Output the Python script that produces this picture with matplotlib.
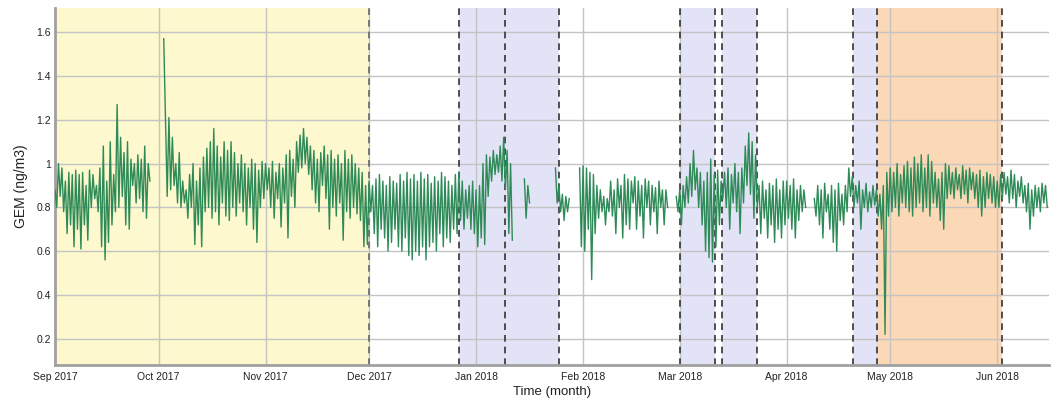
import numpy as np
import pandas as pd
import matplotlib
matplotlib.use("Agg")
from matplotlib import pyplot as plt
import matplotlib.dates as mdates
from matplotlib.ticker import FuncFormatter

nan = np.nan

# GEM readings (ng/m3 x 100), two readings per day (high / low)
sep_2017 = [88, 80, 100, 85, 98, 78, 92, 68, 96, 72, 95, 62, 97, 70, 95, 61, 96, 72, 90, 65,
            97, 80, 95, 84, 90, 78, 98, 62, 108, 56, 92, 64, 110, 72, 95, 78, 127, 80, 112, 85,
            105, 72, 110, 70, 102, 90, 100, 82, 104, 84, 102, 78, 108, 75, 100, 92, nan, nan, nan, nan]
oct_2017 = [nan, nan, nan, 157, 122, 85, 121, 88, 112, 90, 100, 82, 105, 80, 92, 82, 88, 75, 95, 80,
            100, 63, 92, 72, 98, 62, 103, 78, 107, 80, 110, 75, 116, 78, 108, 72, 103, 82, 110, 76,
            106, 74, 110, 80, 105, 76, 100, 82, 104, 78, 100, 72, 98, 80, 102, 70, 100, 64, 97, 80,
            101, 84]
nov_2017 = [100, 88, 98, 80, 101, 75, 96, 84, 100, 71, 98, 82, 104, 66, 106, 85, 102, 80, 110, 96,
            113, 98, 116, 100, 112, 95, 108, 88, 106, 82, 102, 78, 105, 90, 108, 84, 104, 70, 106, 80,
            102, 76, 104, 82, 100, 65, 106, 78, 102, 75, 104, 80, 100, 77, 98, 74, 96, 62, 90, 63]
dec_2017 = [92, 78, 90, 68, 93, 62, 95, 70, 92, 66, 90, 60, 94, 64, 92, 70, 91, 62, 95, 60,
            92, 66, 96, 58, 93, 56, 95, 60, 92, 58, 96, 62, 93, 56, 95, 62, 91, 64, 94, 60,
            92, 68, 96, 62, 94, 66, 92, 64, 90, 70, 95, 68, 96, 74, 92, 70, 88, 75, 90, 70,
            92, 68]
jan_2018 = [88, 62, 90, 66, 100, 63, 104, 85, 103, 92, 106, 95, 104, 96, 108, 92, 112, 88, 106, 68,
            100, 65, nan, nan, nan, nan, nan, nan, 93, 75, 90, 82, nan, nan, nan, nan, nan, nan, nan, nan,
            nan, nan, nan, nan, nan, nan, 98, 82, 90, 78, 86, 74, 85, 78, 84, nan, nan, nan, nan, nan,
            98, 62]
feb_2018 = [99, 60, 98, 70, 96, 47, 95, 68, 90, 75, 88, 78, 85, 72, 84, 78, 92, 76, 88, 68,
            93, 80, 90, 66, 95, 72, 93, 70, 92, 82, 94, 70, 92, 76, 90, 66, 93, 80, 92, 72,
            90, 78, 89, 68, 92, 80, 88, 72, 88, 80, nan, nan, nan, nan, 85, 78]
mar_2018 = [88, 72, 90, 80, 94, 82, 100, 85, 106, 88, 98, 80, 96, 72, 92, 60, 96, 57, 102, 55,
            95, 62, 97, 72, 92, 84, 96, 80, 98, 70, 95, 82, 100, 78, 96, 68, 98, 82, 108, 90,
            114, 86, 110, 75, 104, 80, 90, 68, 92, 75, 88, 66, 91, 72, 90, 64, 93, 70, 88, 66,
            92, 72]
apr_2018 = [92, 75, 90, 70, 93, 66, 88, 74, 90, 78, 88, 80, nan, nan, nan, nan, 84, 76, 90, 72,
            88, 66, 91, 78, 86, 70, 90, 64, 88, 60, 91, 74, 86, 72, 90, 78, 98, 85, 94, 80,
            90, 82, 92, 70, 88, 80, 91, 78, 87, 80, 90, 81, 88, 76, 86, 70, 90, 22, 96, 76]
may_2018 = [98, 78, 96, 80, 100, 76, 95, 82, 99, 80, 101, 78, 98, 76, 103, 80, 100, 82, 104, 78,
            98, 80, 104, 76, 101, 82, 96, 80, 93, 74, 96, 70, 100, 84, 99, 86, 96, 84, 98, 88,
            95, 84, 99, 86, 97, 82, 98, 88, 96, 84, 95, 80, 97, 76, 94, 80, 96, 84, 95, 82,
            94, 80]
jun_2018 = [92, 80, 95, 84, 96, 86, 94, 82, 97, 84, 95, 80, 92, 85, 94, 82, 90, 78, 91, 70,
            88, 76, 90, 80, 89, 78, 91, 82, 90, 80]

gem = np.array(sep_2017 + oct_2017 + nov_2017 + dec_2017 + jan_2018 + feb_2018
               + mar_2018 + apr_2018 + may_2018 + jun_2018, dtype=float) / 100
times = pd.date_range("2017-09-01", periods=len(gem), freq="12h")

# shaded periods
yellow_periods = [("2017-09-01", "2017-12-01")]
blue_periods = [("2017-12-27", "2018-01-25"), ("2018-03-01", "2018-03-11 06:00"),
                ("2018-03-13 06:00", "2018-03-23 12:00"), ("2018-04-20 06:00", "2018-04-27 06:00")]
orange_periods = [("2018-04-27 06:00", "2018-06-02 06:00")]
dashed_dates = ["2017-12-27", "2018-01-09 10:00", "2018-01-25", "2018-03-01",
                "2018-03-11 06:00", "2018-03-13 06:00", "2018-03-23 12:00",
                "2018-04-20 06:00", "2018-04-27 06:00", "2018-06-02 06:00"]

plt.rcParams['font.family'] = ['Liberation Sans', 'DejaVu Sans']

fig = plt.figure(figsize=(10.6, 4.04), dpi=100)
ax = fig.add_axes([0.0519, 0.0965, 0.9377, 0.8835])

for start, end in yellow_periods:
    ax.axvspan(pd.Timestamp(start), pd.Timestamp(end), color="#fdf8cd", zorder=0, lw=0)
for start, end in blue_periods:
    ax.axvspan(pd.Timestamp(start), pd.Timestamp(end), color="#e3e3f8", zorder=0, lw=0)
for start, end in orange_periods:
    ax.axvspan(pd.Timestamp(start), pd.Timestamp(end), color="#fcd9b6", zorder=0, lw=0)

ax.axvline(pd.Timestamp("2017-12-01"), color="#666666", ls=(0, (4, 3)), lw=1.2, zorder=2)
for d in dashed_dates:
    ax.axvline(pd.Timestamp(d), color="#333333", ls=(0, (4, 3)), lw=1.2, zorder=2)

ax.plot(times, gem, color="#2e8b57", lw=1.0, zorder=3)

ax.set_xlim(pd.Timestamp("2017-09-01"), pd.Timestamp("2018-06-16"))
ax.set_ylim(0.08, 1.71)
ax.set_yticks([0.2, 0.4, 0.6, 0.8, 1.0, 1.2, 1.4, 1.6])
ax.yaxis.set_major_formatter(FuncFormatter(lambda v, p: "%g" % round(v, 1)))
ax.xaxis.set_major_locator(mdates.MonthLocator())
ax.xaxis.set_major_formatter(mdates.DateFormatter("%b %Y"))

ax.grid(True, color="#c4c4c4", lw=1)
ax.set_axisbelow(True)
ax.tick_params(length=0, labelsize=7.5, colors="#222222")
ax.tick_params(axis="y", pad=3)
ax.tick_params(axis="x", pad=5)
for s in ["top", "right"]:
    ax.spines[s].set_visible(False)
for s in ["left", "bottom"]:
    ax.spines[s].set_color("#a0a0a0")
    ax.spines[s].set_linewidth(2)

ax.set_xlabel("Time (month)", fontsize=9.5, color="#222222", labelpad=3)
ax.set_ylabel("GEM (ng/m3)", fontsize=10, color="#222222", labelpad=6)

fig.savefig("out.png", dpi=100)
